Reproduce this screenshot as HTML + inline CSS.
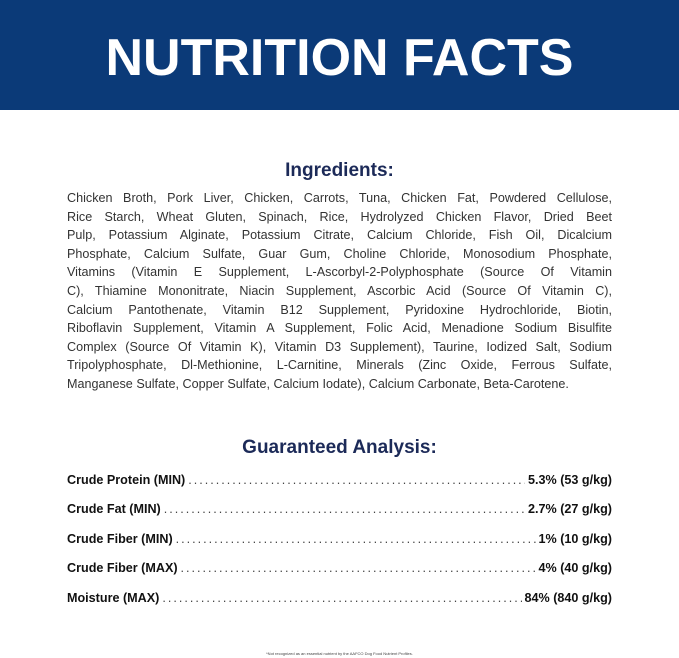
<!DOCTYPE html>
<html><head><meta charset="utf-8"><style>
body{margin:0;width:679px;height:658px;background:#fff;font-family:"Liberation Sans",sans-serif;position:relative;overflow:hidden}
.hd{position:absolute;left:0;top:0;width:679px;height:110px;background:#0b3a78}
.hd div{position:absolute;left:0;right:0;top:28px;text-align:center;color:#fff;font-weight:bold;font-size:52px;letter-spacing:0px;line-height:60px}
h2{position:absolute;left:0;right:0;margin:0;text-align:center;color:#1c2a58;font-size:19px;font-weight:bold;line-height:22px}
.ing{position:absolute;left:67px;top:189px;width:545px;font-size:12.6px;color:#333;line-height:18.6px}
.ing div{text-align:justify;text-align-last:justify;white-space:nowrap;height:18.6px}
.ing div.l{text-align-last:left}
.row{position:absolute;left:67px;width:545px;font-size:12.6px;font-weight:bold;color:#111;display:flex;line-height:16px}
.row .d{flex:1;overflow:hidden;white-space:nowrap;font-weight:normal;color:#444;letter-spacing:2px;margin:0 3px}
.ft{position:absolute;left:0;right:0;top:651px;text-align:center;font-size:4px;color:#444}
</style></head><body>
<div class="hd"><div>NUTRITION FACTS</div></div>
<h2 style="top:160px">Ingredients:</h2>
<div class="ing">
<div>Chicken Broth, Pork Liver, Chicken, Carrots, Tuna, Chicken Fat, Powdered Cellulose,</div>
<div>Rice Starch, Wheat Gluten, Spinach, Rice, Hydrolyzed Chicken Flavor, Dried Beet</div>
<div>Pulp, Potassium Alginate, Potassium Citrate, Calcium Chloride, Fish Oil, Dicalcium</div>
<div>Phosphate, Calcium Sulfate, Guar Gum, Choline Chloride, Monosodium Phosphate,</div>
<div>Vitamins (Vitamin E Supplement, L-Ascorbyl-2-Polyphosphate (Source Of Vitamin</div>
<div>C), Thiamine Mononitrate, Niacin Supplement, Ascorbic Acid (Source Of Vitamin C),</div>
<div>Calcium Pantothenate, Vitamin B12 Supplement, Pyridoxine Hydrochloride, Biotin,</div>
<div>Riboflavin Supplement, Vitamin A Supplement, Folic Acid, Menadione Sodium Bisulfite</div>
<div>Complex (Source Of Vitamin K), Vitamin D3 Supplement), Taurine, Iodized Salt, Sodium</div>
<div>Tripolyphosphate, Dl-Methionine, L-Carnitine, Minerals (Zinc Oxide, Ferrous Sulfate,</div>
<div class="l">Manganese Sulfate, Copper Sulfate, Calcium Iodate), Calcium Carbonate, Beta-Carotene.</div>
</div>
<h2 style="top:437px">Guaranteed Analysis:</h2>
<div class="row" style="top:472px"><span>Crude Protein (MIN)</span><span class="d">..............................................................................................</span><span>5.3% (53 g/kg)</span></div>
<div class="row" style="top:501px"><span>Crude Fat (MIN)</span><span class="d">..............................................................................................</span><span>2.7% (27 g/kg)</span></div>
<div class="row" style="top:531px"><span>Crude Fiber (MIN)</span><span class="d">..............................................................................................</span><span>1% (10 g/kg)</span></div>
<div class="row" style="top:560px"><span>Crude Fiber (MAX)</span><span class="d">..............................................................................................</span><span>4% (40 g/kg)</span></div>
<div class="row" style="top:590px"><span>Moisture (MAX)</span><span class="d">..............................................................................................</span><span>84% (840 g/kg)</span></div>
<div class="ft">*Not recognized as an essential nutrient by the AAFCO Dog Food Nutrient Profiles.</div>
</body></html>
